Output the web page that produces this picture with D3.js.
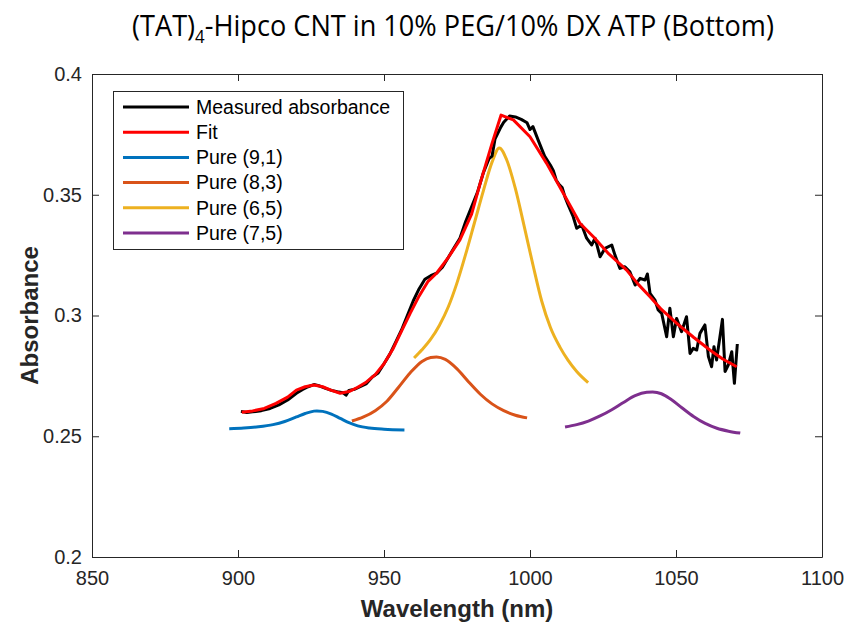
<!DOCTYPE html>
<html>
<head>
<meta charset="utf-8">
<script src="https://cdn.jsdelivr.net/npm/d3@7"></script>
<style>
  body { margin: 0; background: #fff; }
  svg { display: block; }
  text { font-family: "Liberation Sans", Arial, sans-serif; fill: #262626; }
</style>
</head>
<body>
<svg width="848" height="632"></svg>
<script>
// wavelength (nm), absorbance pairs
const measured = [
  [901, 0.2603], [903, 0.2598], [905, 0.2601], [908, 0.2606], [911, 0.2615],
  [914, 0.2630], [917, 0.2650], [920, 0.2678], [922, 0.2693], [924, 0.2705],
  [926, 0.2714], [928, 0.2708], [930, 0.2698], [932, 0.2690], [934, 0.2684],
  [936, 0.2680], [937, 0.2670], [938, 0.2690], [940, 0.2695], [942, 0.2706],
  [944, 0.2718], [946, 0.2745], [948, 0.2762], [950, 0.2800], [952, 0.2840],
  [954, 0.2890], [956, 0.2940], [958, 0.3000], [960, 0.3060], [962, 0.3110],
  [964, 0.3150], [966, 0.3165], [968, 0.3175], [970, 0.3200], [972, 0.3240],
  [974, 0.3280], [976, 0.3320], [978, 0.3390], [980, 0.3450], [982, 0.3510],
  [984, 0.3590], [986, 0.3650], [987, 0.3660], [988, 0.3730], [990, 0.3780],
  [991, 0.3800], [993, 0.3826], [995, 0.3822], [997, 0.3812], [999, 0.3798],
  [1000, 0.3770], [1001, 0.3782], [1003, 0.3720], [1005, 0.3660], [1007, 0.3622],
  [1008, 0.3600], [1009, 0.3560], [1010, 0.3542], [1011, 0.3530], [1012, 0.3490],
  [1013, 0.3460], [1014.8, 0.3409], [1016.0, 0.3361], [1017.7, 0.3375], [1019.4, 0.3320],
  [1021.1, 0.3292], [1022.3, 0.3320], [1024.0, 0.3243], [1025.7, 0.3278], [1028.0, 0.3292],
  [1029.1, 0.3250], [1030.8, 0.3195], [1032.5, 0.3202], [1034.2, 0.3181], [1036.0, 0.3126],
  [1037.7, 0.3154], [1039.4, 0.3147], [1040.2, 0.3172], [1041.1, 0.3092], [1042.8, 0.3064],
  [1043.9, 0.3023], [1045.1, 0.3009], [1046.8, 0.2912], [1047.9, 0.3030], [1049.1, 0.2912],
  [1050.2, 0.2988], [1051.9, 0.2933], [1053.6, 0.2995], [1054.8, 0.2843], [1055.9, 0.2864],
  [1057.1, 0.2857], [1058.2, 0.2926], [1059.9, 0.2961], [1061.1, 0.2830], [1062.2, 0.2788],
  [1063.0, 0.2871], [1063.9, 0.2816], [1065.9, 0.2984], [1066.8, 0.2768], [1067.9, 0.2795],
  [1069.1, 0.2850], [1070.0, 0.2719], [1071.0, 0.2882]
];

const fit = [
  [901.3, 0.2599], [905, 0.2605], [909, 0.2615], [913, 0.2636], [917, 0.2662],
  [920, 0.2691], [923, 0.2705], [926, 0.2712], [929, 0.2705], [932, 0.2690],
  [935, 0.2678], [938, 0.2685], [941, 0.2703], [944, 0.2725], [947, 0.2755],
  [950, 0.2800], [953, 0.2860], [956, 0.2935], [959, 0.3010], [962, 0.3080],
  [965, 0.3140], [968, 0.3175], [972, 0.3240], [976, 0.3313], [980, 0.3420],
  [983, 0.3550], [987, 0.3713], [990.1, 0.3830], [994.3, 0.3810], [1000, 0.3740],
  [1005.7, 0.3630], [1011.4, 0.3506], [1017.1, 0.3382], [1021.7, 0.3326], [1027, 0.3255],
  [1033.1, 0.3188], [1037, 0.3130], [1041.1, 0.3078], [1045, 0.3025], [1050.2, 0.2968],
  [1056, 0.2910], [1061.6, 0.2857], [1066, 0.2820], [1070.8, 0.2788]
];

const pure91 = [
  [897, 0.2531], [902, 0.2534], [907, 0.2539], [912, 0.2548], [916, 0.2561],
  [920, 0.2580], [923, 0.2594], [926, 0.2604], [927, 0.2605], [929, 0.2603],
  [932, 0.2592], [935, 0.2574], [938, 0.2556], [941, 0.2543], [945, 0.2534],
  [950, 0.2529], [957, 0.2526]
];

const pure83 = [
  [939, 0.2563], [943, 0.2580], [947, 0.2606], [951, 0.2645], [955, 0.2703],
  [959, 0.2763], [963, 0.2810], [966, 0.2826], [968, 0.2828], [971, 0.2818],
  [975, 0.2779], [979, 0.2725], [983, 0.2674], [987, 0.2634], [991, 0.2606],
  [995, 0.2587], [999, 0.2576]
];

const pure65 = [
  [960.3, 0.2824], [963, 0.2858], [966, 0.2902], [969, 0.2960], [972, 0.3035],
  [975, 0.3135], [978, 0.3255], [981, 0.3385], [984, 0.3515], [987, 0.3635],
  [989.5, 0.3694], [992, 0.3645], [995, 0.3525], [998, 0.3370], [1001, 0.3210],
  [1004, 0.3060], [1007, 0.2950], [1010.3, 0.2868], [1013, 0.2815], [1016, 0.2768],
  [1019.9, 0.2722]
];

const pure75 = [
  [1012, 0.2538], [1016, 0.2548], [1020, 0.2563], [1024, 0.2584], [1028, 0.2610],
  [1032, 0.2640], [1036, 0.2668], [1040, 0.2682], [1042, 0.2683], [1045, 0.2676],
  [1048, 0.2655], [1052, 0.2618], [1056, 0.2582], [1060, 0.2553], [1064, 0.2533],
  [1068, 0.2521], [1072, 0.2513]
];

const xTicks = [850, 900, 950, 1000, 1050, 1100];
const yTicks = [0.2, 0.25, 0.3, 0.35, 0.4];

const series = [
  { name: "Measured absorbance", data: measured, color: "#000000", curve: d3.curveLinear },
  { name: "Fit", data: fit, color: "#ff0000", curve: d3.curveLinear },
  { name: "Pure (9,1)", data: pure91, color: "#0072bd", curve: d3.curveMonotoneX },
  { name: "Pure (8,3)", data: pure83, color: "#d95319", curve: d3.curveMonotoneX },
  { name: "Pure (6,5)", data: pure65, color: "#edb120", curve: d3.curveMonotoneX },
  { name: "Pure (7,5)", data: pure75, color: "#7e2f8e", curve: d3.curveMonotoneX }
];

const svg = d3.select("svg");
const plotLeft = 92, plotRight = 822, plotTop = 74, plotBottom = 557;

const x = d3.scaleLinear().domain([850, 1100]).range([plotLeft, plotRight]);
const y = d3.scaleLinear().domain([0.2, 0.4]).range([plotBottom, plotTop]);

// title (Calibri-like width: squeeze horizontally to the reference width)
const titleX = 453;
const title = svg.append("text")
  .attr("x", titleX)
  .attr("y", 36)
  .attr("text-anchor", "middle")
  .style("font-family", "'Open Sans', 'Noto Sans', sans-serif")
  .style("font-size", "29px")
  .style("fill", "#000");
title.append("tspan").text("(TAT)");
title.append("tspan").attr("dy", 7).style("font-size", "18px").text("4");
title.append("tspan").attr("dy", -7).text("-Hipco CNT in 10% PEG/10% DX ATP (Bottom)");
const tw = title.node().getBBox().width;
const sx = 642 / tw;
title.attr("transform", `translate(${titleX},0) scale(${sx},1) translate(${-titleX},0)`);

// lines (clipped to axes)
svg.append("clipPath").attr("id", "clip")
  .append("rect").attr("x", plotLeft).attr("y", plotTop)
  .attr("width", plotRight - plotLeft).attr("height", plotBottom - plotTop);

const plot = svg.append("g").attr("clip-path", "url(#clip)");

// draw components first, fit and measurement on top
const drawOrder = [2, 3, 4, 5, 0, 1];
drawOrder.forEach((i) => {
  const s = series[i];
  plot.append("path")
    .datum(s.data)
    .attr("fill", "none")
    .attr("stroke", s.color)
    .attr("stroke-width", 3)
    .attr("stroke-linejoin", "round")
    .attr("d", d3.line().x((d) => x(d[0])).y((d) => y(d[1])).curve(s.curve));
});

// axes, MATLAB style: ticks inward on all four sides
const tickLen = 7;
const xAxis = svg.append("g").attr("transform", `translate(0,${plotBottom})`)
  .call(d3.axisBottom(x).tickValues(xTicks).tickSizeInner(-tickLen).tickSizeOuter(0)
    .tickPadding(14).tickFormat(d3.format("d")));
const xAxisTop = svg.append("g").attr("transform", `translate(0,${plotTop})`)
  .call(d3.axisTop(x).tickValues(xTicks).tickSizeInner(-tickLen).tickSizeOuter(0).tickFormat(""));
const yAxis = svg.append("g").attr("transform", `translate(${plotLeft},0)`)
  .call(d3.axisLeft(y).tickValues(yTicks).tickSizeInner(-tickLen).tickSizeOuter(0)
    .tickPadding(10).tickFormat(d3.format("~g")));
const yAxisRight = svg.append("g").attr("transform", `translate(${plotRight},0)`)
  .call(d3.axisRight(y).tickValues(yTicks).tickSizeInner(-tickLen).tickSizeOuter(0).tickFormat(""));

[xAxis, xAxisTop, yAxis, yAxisRight].forEach((g) => {
  g.select(".domain").attr("stroke", "#262626").attr("stroke-width", 1);
  g.selectAll(".tick line").attr("stroke", "#262626");
  g.selectAll(".tick text")
    .style("font-family", "'Liberation Sans', Arial, sans-serif")
    .style("font-size", "20px")
    .attr("fill", "#262626");
});

// axis labels
svg.append("text")
  .attr("x", (plotLeft + plotRight) / 2)
  .attr("y", 617)
  .attr("text-anchor", "middle")
  .style("font-size", "24px")
  .style("font-weight", "bold")
  .text("Wavelength (nm)");

svg.append("text")
  .attr("transform", `translate(38,${(plotTop + plotBottom) / 2}) rotate(-90)`)
  .attr("text-anchor", "middle")
  .style("font-size", "24px")
  .style("font-weight", "bold")
  .text("Absorbance");

// legend
const legend = svg.append("g");
legend.append("rect")
  .attr("x", 113.5).attr("y", 91.5)
  .attr("width", 290).attr("height", 158)
  .attr("fill", "#fff")
  .attr("stroke", "#262626")
  .attr("stroke-width", 1);

series.forEach((s, i) => {
  const ly = 107 + i * 25.2;
  legend.append("line")
    .attr("x1", 123).attr("x2", 189)
    .attr("y1", ly).attr("y2", ly)
    .attr("stroke", s.color)
    .attr("stroke-width", 3);
  legend.append("text")
    .attr("x", 196).attr("y", ly)
    .attr("dy", "0.35em")
    .style("font-size", "19.5px")
    .style("fill", "#000")
    .text(s.name);
});
</script>
</body>
</html>
